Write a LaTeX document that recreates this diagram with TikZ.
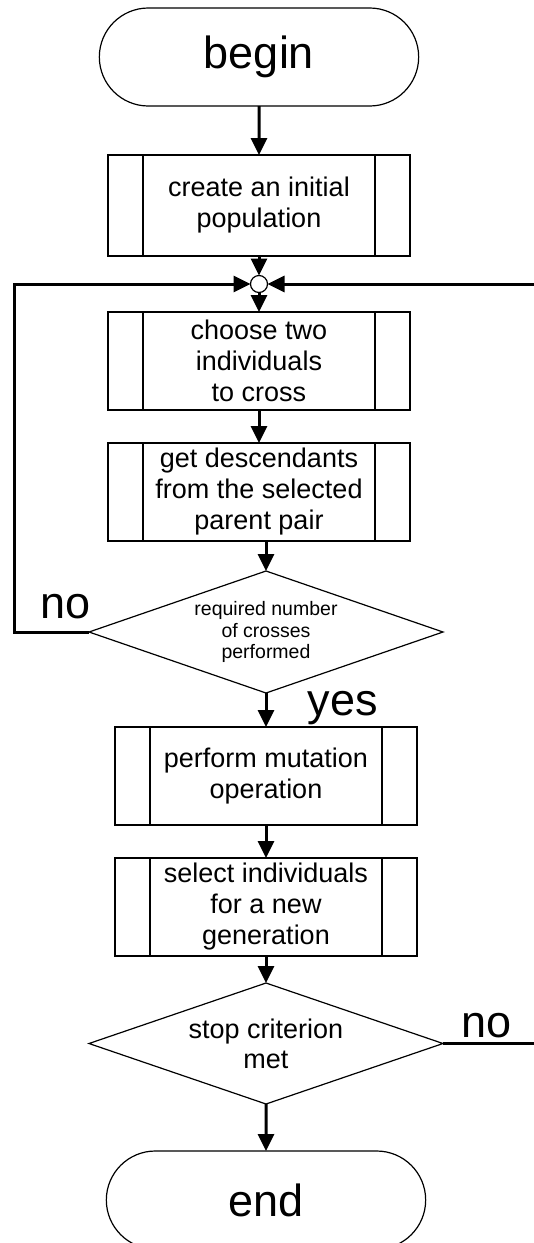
\documentclass[tikz,border=0pt]{standalone}
\usepackage{fontspec}
\setmainfont{Liberation Sans}
\usetikzlibrary{shapes.geometric,shapes.misc,arrows.meta,positioning}

\begin{document}
\begin{tikzpicture}[
  x=1pt, y=-1pt, every node/.style={outer sep=0pt},
  term/.style={draw, rounded rectangle, minimum width=326pt, minimum height=98pt,
               line width=1.2pt, font=\fontsize{45}{54}\selectfont},
  proc/.style={draw, minimum width=302pt, minimum height=98pt, inner sep=2pt,
               align=center, line width=1.2pt, font=\fontsize{27}{31}\selectfont,
               path picture={\draw[line width=1.2pt]
                 ([xshift=35pt]path picture bounding box.north west) -- ([xshift=35pt]path picture bounding box.south west)
                 ([xshift=-35pt]path picture bounding box.north east) -- ([xshift=-35pt]path picture bounding box.south east);}},
  cond/.style={draw, diamond, aspect=2.9, inner sep=0pt, minimum width=354pt,
               minimum height=122pt, align=center, line width=1.2pt},
  joint/.style={draw, circle, minimum size=17pt, inner sep=0pt, line width=1.2pt},
  lbl/.style={inner sep=0pt, font=\fontsize{45}{54}\selectfont},
  arr/.style={-{Triangle[length=17pt, width=16pt]}, line width=3pt}
]
\useasboundingbox (0,0) rectangle (534,1243);

\node[term] (begin) at (259,57) {begin};
\node[proc, minimum height=101pt, below=49pt of begin] (init) {create an initial\\population};
\node[joint, below=19.5pt of init] (jn) {};
\node[proc, below=19.5pt of jn] (choose) {choose two\\individuals\\to cross};
\node[proc, below=33pt of choose] (desc) {get descendants\\from the selected\\parent pair};
\node[cond, below=30pt of desc, xshift=7pt,
      font=\fontsize{19.5}{21.5}\selectfont] (crosses) {required number\\of crosses\\performed};
\node[proc, below=34pt of crosses] (mutate) {perform mutation\\operation};
\node[proc, below=33pt of mutate] (select) {select individuals\\for a new\\generation};
\node[cond, below=27pt of select, minimum height=121pt,
      font=\fontsize{27}{30}\selectfont] (stop) {stop criterion\\met};
\node[term, below=47pt of stop] (end) {end};

\node[lbl, anchor=base] (noa) at (65.5,618) {no};
\node[lbl, anchor=base] (yes) at (343,715) {yes};
\node[lbl, anchor=base] (nob) at (487,1037) {no};

\draw[arr] (begin) -- (init);
\draw[arr] (init) -- (jn);
\draw[arr] (jn) -- (choose);
\draw[arr] (choose) -- (desc);
\draw[arr] (desc.south -| crosses.north) -- (crosses.north);
\draw[arr] (crosses) -- (mutate);
\draw[arr] (mutate) -- (select);
\draw[arr] (select) -- (stop);
\draw[arr] (stop) -- (end);
% loops back to the joint
\draw[arr] (crosses.west) -- ++(-75,0) |- (jn.west);
\draw[arr] (stop.east) -- ++(92,0) |- (jn.east);
\end{tikzpicture}
\end{document}
